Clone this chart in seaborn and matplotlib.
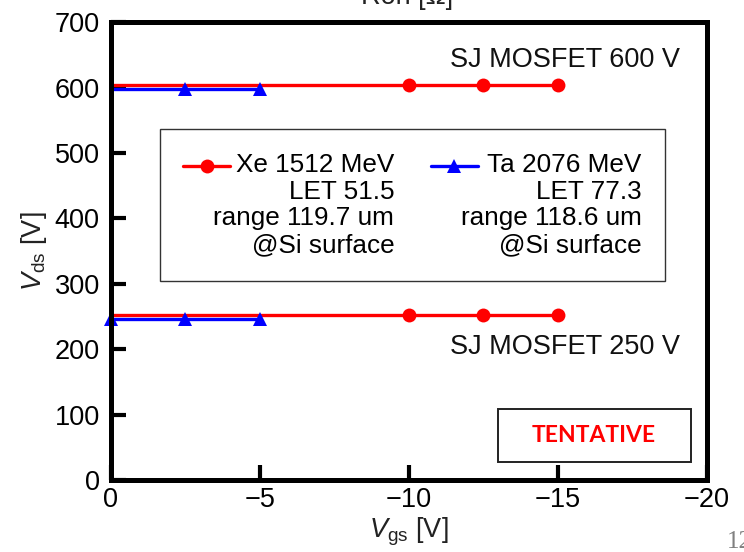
import matplotlib
matplotlib.use("Agg")
import matplotlib.pyplot as plt
import numpy as np
import seaborn as sns
from matplotlib.patches import Rectangle

# Data: gate voltage [V] vs drain voltage [V] (no SEB)
XE_VGS = [0, -10, -12.5, -15]
XE_VDS_600 = [604, 604, 604, 604]
XE_VDS_250 = [253, 253, 253, 253]
TA_VGS = [0, -2.5, -5]
TA_VDS_600 = [598, 598, 598]
TA_VDS_250 = [247, 247, 247]

XE_LABEL = "Xe 1512 MeV\nLET 51.5\nrange 119.7 um\n@Si surface"
TA_LABEL = "Ta 2076 MeV\nLET 77.3\nrange 118.6 um\n@Si surface"

X_TICKS = [0, -5, -10, -15, -20]
Y_TICKS = [0, 100, 200, 300, 400, 500, 600, 700]

sns.set_theme(style="white")
plt.rcParams["font.family"] = ["Liberation Sans", "DejaVu Sans"]
plt.rcParams["text.color"] = "black"
plt.rcParams["axes.labelcolor"] = "black"
plt.rcParams["mathtext.fontset"] = "custom"
plt.rcParams["mathtext.rm"] = "Liberation Sans"
plt.rcParams["mathtext.it"] = "Liberation Sans:italic"

FS = 19.5
LEG_FS = 18.8
fig = plt.figure(figsize=(7.44, 5.52), dpi=100)
ax = fig.add_axes([0.149, 0.130, 0.801, 0.830])

line_kw = dict(linewidth=2.4, markersize=10, markeredgewidth=0, sort=False,
               legend=False, ax=ax)
sns.lineplot(x=XE_VGS, y=XE_VDS_600, color="red", marker="o",
             markevery=[1, 2, 3], **line_kw)
sns.lineplot(x=XE_VGS, y=XE_VDS_250, color="red", marker="o",
             markevery=[1, 2, 3], **line_kw)
sns.lineplot(x=TA_VGS, y=TA_VDS_600, color="blue", marker="^",
             markevery=[1, 2], **line_kw)
sns.lineplot(x=TA_VGS, y=TA_VDS_250, color="blue", marker="^",
             markevery=[0, 1, 2], clip_on=False, **line_kw)

ax.set_xlim(0, -20)
ax.set_ylim(0, 700)
ax.set_xticks(X_TICKS)
ax.set_xticklabels(["0" if t == 0 else f"\u2212{abs(t)}" for t in X_TICKS])
ax.set_yticks(Y_TICKS)
ax.tick_params(bottom=True, left=True, direction="in", length=11, width=3,
               color="black", labelsize=FS, labelcolor="black")
ax.tick_params(axis="y", pad=8)
ax.tick_params(axis="x", pad=5)
for sp in ax.spines.values():
    sp.set_visible(True)
    sp.set_linewidth(3.6)
    sp.set_color("black")

ax.set_xlabel(r"$V_{\mathrm{gs}}$ [V]", fontsize=FS, color="#222222", labelpad=2)
ax.set_ylabel(r"$V_{\mathrm{ds}}$ [V]", fontsize=FS, color="#222222", labelpad=4)

# legend with right aligned multi-line labels
handles = [
    plt.Line2D([], [], color="red", marker="o", lw=2.4, markersize=10, markeredgewidth=0),
    plt.Line2D([], [], color="blue", marker="^", lw=2.4, markersize=10, markeredgewidth=0),
]
leg = ax.legend(handles, [XE_LABEL, TA_LABEL], ncol=2, loc="upper left",
                bbox_to_anchor=(0.082, 0.766), borderaxespad=0, fontsize=LEG_FS,
                frameon=True, fancybox=False, framealpha=1, edgecolor="#333333",
                handlelength=1.8, handletextpad=-0.65, columnspacing=1.4,
                borderpad=0.9, labelcolor="black")
leg.get_frame().set_linewidth(1.0)
for t in leg.get_texts():
    t.set_multialignment("right")
    t.set_linespacing(1.15)

fig.canvas.draw()
renderer = fig.canvas.get_renderer()
for h, t in zip(leg.legend_handles, leg.get_texts()):
    tb = t.get_window_extent(renderer)
    n_lines = len(t.get_text().split("\n"))
    line_h = tb.height / n_lines
    target = tb.y1 - 0.5 * line_h
    hb = h.get_window_extent(renderer)
    cur = 0.5 * (hb.y0 + hb.y1)
    off_pt = (target - cur) * 72.0 / fig.dpi
    h.set_ydata(np.asarray(h.get_ydata()) + off_pt)

ax.text(0.955, 0.917, "SJ MOSFET 600 V", transform=ax.transAxes,
        ha="right", va="center", fontsize=FS, color="#111111")
ax.text(0.955, 0.290, "SJ MOSFET 250 V", transform=ax.transAxes,
        ha="right", va="center", fontsize=FS, color="#111111")

ax.add_patch(Rectangle((0.649, 0.039), 0.324, 0.116, transform=ax.transAxes,
                       facecolor="white", edgecolor="#222222", linewidth=1.4,
                       zorder=5))
ax.text(0.811, 0.097, "TENTATIVE", transform=ax.transAxes, ha="center",
        va="center", fontsize=16.5, fontweight="bold", color="red",
        family=["Lato", "DejaVu Sans"], zorder=6)

# cut-off slide remnants
fig.text(0.547, 1 - 4 / 552, "Ron [\u03a9]", ha="center", va="baseline",
         fontsize=FS, color="#222222")
fig.text(0.977, 1 - 548 / 552, "12", ha="left", va="baseline", fontsize=18,
         color="#808080", family=["Liberation Serif", "DejaVu Serif"])

fig.savefig("out.png", dpi=100)
